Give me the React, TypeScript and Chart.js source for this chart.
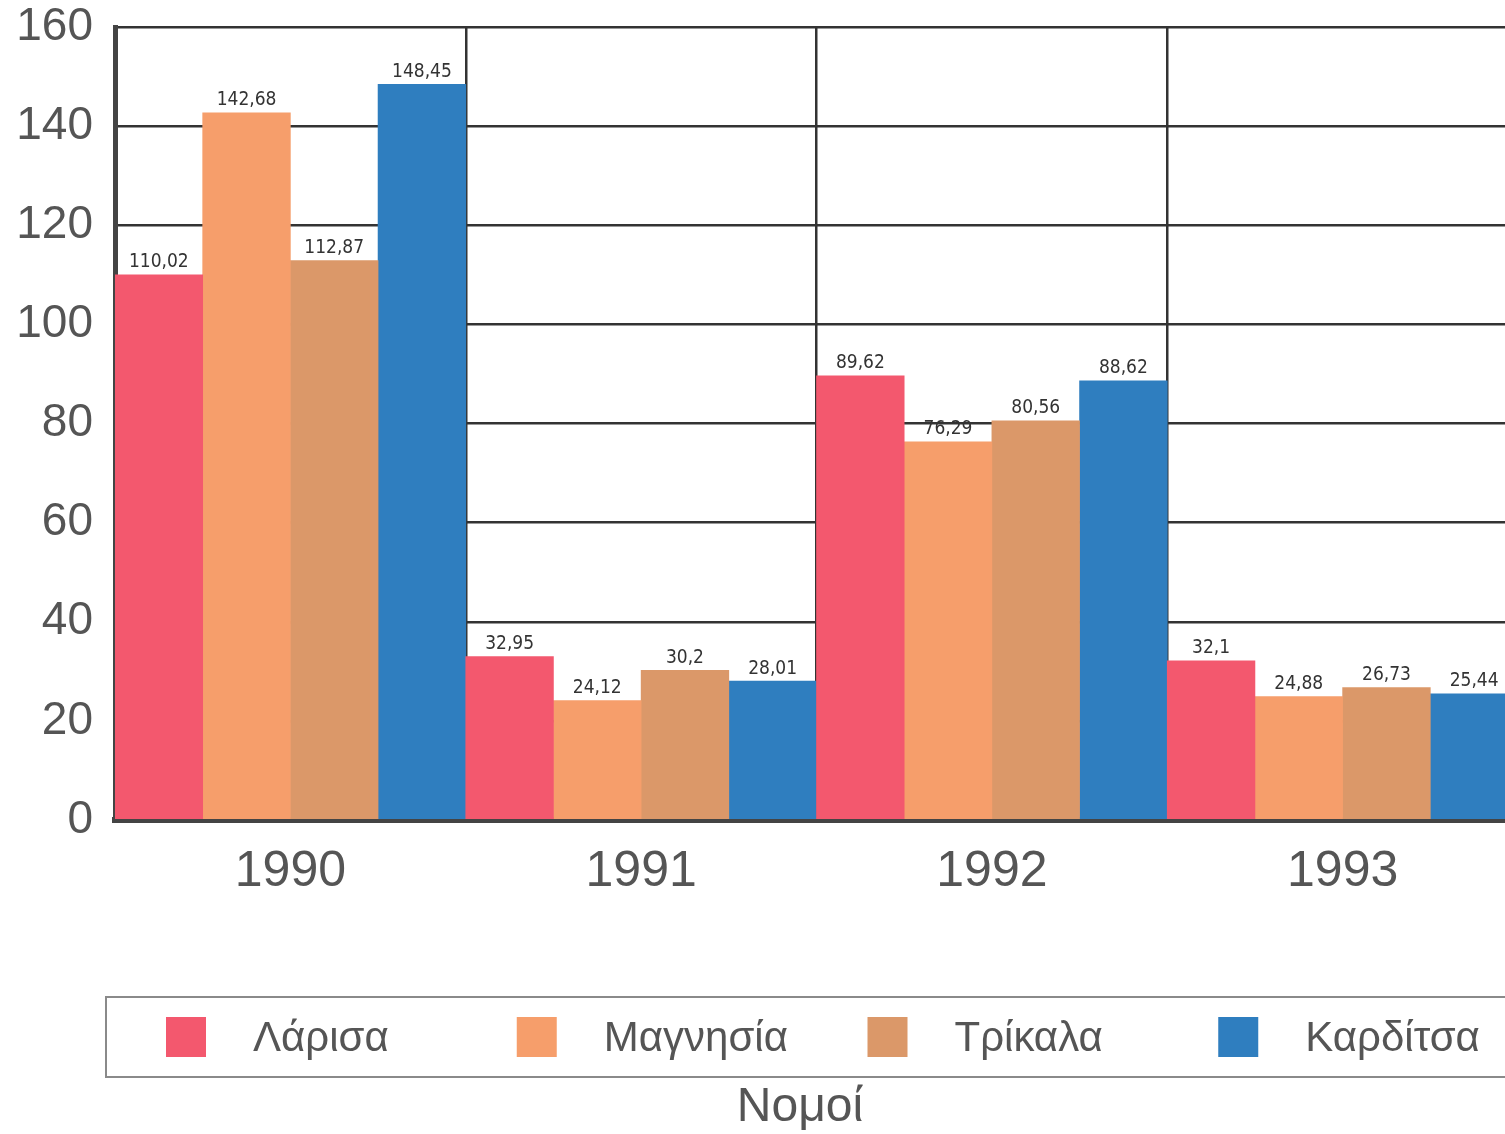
import React, { useEffect, useRef } from 'react';
import { Chart, registerables } from 'chart.js';

Chart.register(...registerables);

const years = ['1990', '1991', '1992', '1993'];
const seriesNames = ['Λάρισα', 'Μαγνησία', 'Τρίκαλα', 'Καρδίτσα'];
const larisa = [110.02, 32.95, 89.62, 32.1];
const magnisia = [142.68, 24.12, 76.29, 24.88];
const trikala = [112.87, 30.2, 80.56, 26.73];
const karditsa = [148.45, 28.01, 88.62, 25.44];
const seriesColors = ['#F3586E', '#F69E6B', '#DB9869', '#2F7EBF'];
const yMin = 0;
const yMax = 160;
const yStep = 20;
const axisTitle = 'Νομοί';

const FONT = "'Liberation Sans', 'DejaVu Sans', sans-serif";
const NARROW = "'Liberation Sans Narrow', 'DejaVu Sans Condensed', 'Liberation Sans', sans-serif";

const valueLabels = {
  id: 'valueLabels',
  afterDatasetsDraw(chart: any) {
    const ctx = chart.ctx;
    ctx.save();
    ctx.font = `19px ${NARROW}`;
    ctx.fillStyle = '#333';
    ctx.textAlign = 'center';
    ctx.textBaseline = 'bottom';
    chart.data.datasets.forEach((ds: any, di: number) => {
      const meta = chart.getDatasetMeta(di);
      meta.data.forEach((bar: any, i: number) => {
        const v = ds.data[i];
        ctx.fillText(String(v).replace('.', ','), bar.x, bar.y - 3);
      });
    });
    ctx.restore();
  },
};

const boxLegend = {
  id: 'boxLegend',
  afterDraw(chart: any) {
    const ctx = chart.ctx;
    const area = chart.chartArea;
    const slot = (area.right - area.left) / chart.data.datasets.length;
    ctx.save();
    ctx.strokeStyle = '#8a8a8a';
    ctx.lineWidth = 2;
    ctx.strokeRect(106, 997, chart.width, 80);
    chart.data.datasets.forEach((ds: any, i: number) => {
      const x0 = area.left + slot * i + 51;
      ctx.fillStyle = ds.backgroundColor;
      ctx.fillRect(x0, 1017, 40, 40);
      ctx.fillStyle = '#555';
      ctx.font = `42px ${FONT}`;
      ctx.textAlign = 'left';
      ctx.textBaseline = 'middle';
      ctx.fillText(ds.label, x0 + 87, 1039);
    });
    ctx.font = `48px ${FONT}`;
    ctx.textAlign = 'center';
    ctx.textBaseline = 'middle';
    ctx.fillStyle = '#555';
    ctx.fillText(axisTitle, 800, 1108);
    ctx.restore();
  },
};

export default function App() {
  const ref = useRef<HTMLCanvasElement>(null);
  useEffect(() => {
    if (!ref.current) return;
    const series = [larisa, magnisia, trikala, karditsa];
    const chart = new Chart(ref.current, {
      type: 'bar',
      data: {
        labels: years,
        datasets: series.map((d, i) => ({
          label: seriesNames[i],
          data: d,
          backgroundColor: seriesColors[i],
          borderWidth: 0,
          categoryPercentage: 1,
          barPercentage: 1,
        })),
      },
      options: {
        animation: false,
        responsive: false,
        devicePixelRatio: 1,
        layout: { padding: { top: 27, left: 0, right: 0, bottom: 0 } },
        plugins: {
          legend: { display: false },
          tooltip: { enabled: false },
          title: { display: false },
        },
        scales: {
          x: {
            grid: { offset: true, color: '#333', lineWidth: 2.5, drawTicks: false },
            border: { display: true, color: '#444', width: 6 },
            ticks: { color: '#555', font: { family: FONT, size: 50 }, padding: 22 },
            afterFit: (s: any) => {
              s.height = 1134 - 820;
              s.paddingLeft = 0;
              s.paddingRight = 0;
            },
          },
          y: {
            min: yMin,
            max: yMax,
            ticks: { stepSize: yStep, color: '#555', font: { family: FONT, size: 46 }, padding: 22 },
            grid: { color: '#333', lineWidth: 2.5, drawTicks: false },
            border: { display: true, color: '#444', width: 5 },
            afterFit: (s: any) => {
              s.width = 115;
              s.paddingTop = 0;
              s.paddingBottom = 0;
            },
          },
        },
      },
      plugins: [valueLabels, boxLegend],
    });
    return () => chart.destroy();
  }, []);
  return (
    <div style={{ position: 'fixed', left: 0, top: 0, width: 1505, height: 1134, overflow: 'hidden', background: '#fff' }}>
      <canvas ref={ref} width={1518} height={1134} style={{ display: 'block' }} />
    </div>
  );
}
